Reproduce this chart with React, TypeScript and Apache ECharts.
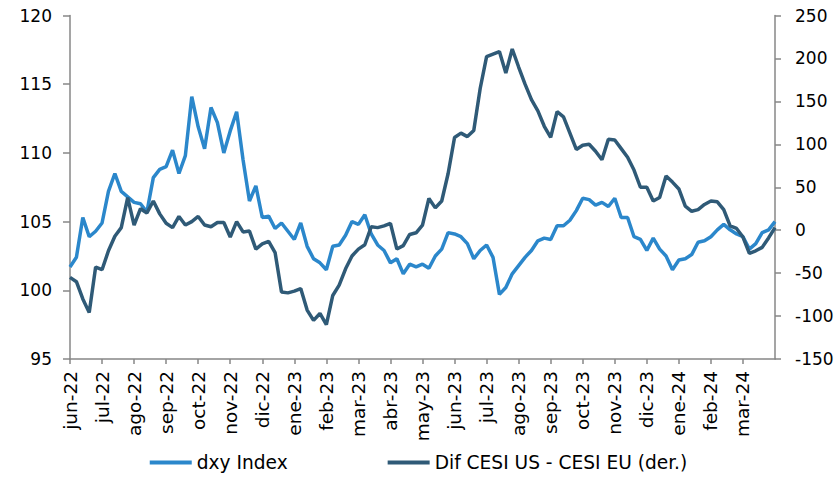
import React, { useEffect, useRef } from "react";
import * as echarts from "echarts";

// Month labels (x-axis), 5 samples per month
const months = [
  "jun-22", "jul-22", "ago-22", "sep-22", "oct-22", "nov-22", "dic-22",
  "ene-23", "feb-23", "mar-23", "abr-23", "may-23", "jun-23", "jul-23",
  "ago-23", "sep-23", "oct-23", "nov-23", "dic-23", "ene-24", "feb-24",
  "mar-24", "abr-24",
];
const samplesPerMonth = 5;

// dxy Index (left axis)
const dxyIndex = [
  101.7, 102.4, 105.3, 103.9, 104.3, // jun-22
  104.9, 107.2, 108.5, 107.2, 106.8, // jul-22
  106.4, 106.3, 105.7, 108.2, 108.8, // ago-22
  109.0, 110.2, 108.5, 109.8, 114.1, // sep-22
  111.9, 110.3, 113.3, 112.2, 110.0, // oct-22
  111.6, 113.0, 109.5, 106.5, 107.6, // nov-22
  105.3, 105.4, 104.5, 104.9, 104.3, // dic-22
  103.7, 104.9, 103.2, 102.3, 102.0, // ene-23
  101.5, 103.2, 103.3, 104.0, 105.0, // feb-23
  104.8, 105.5, 104.1, 103.3, 102.9, // mar-23
  102.0, 102.3, 101.2, 101.9, 101.7, // abr-23
  101.9, 101.6, 102.5, 103.0, 104.2, // may-23
  104.1, 103.9, 103.4, 102.3, 102.9, // jun-23
  103.3, 102.4, 99.7, 100.2, 101.2, // jul-23
  101.8, 102.4, 102.9, 103.6, 103.8, // ago-23
  103.7, 104.7, 104.7, 105.1, 105.8, // sep-23
  106.7, 106.6, 106.2, 106.4, 106.1, // oct-23
  106.7, 105.3, 105.3, 103.9, 103.7, // nov-23
  102.9, 103.8, 103.0, 102.5, 101.5, // dic-23
  102.2, 102.3, 102.6, 103.5, 103.6, // ene-24
  103.9, 104.4, 104.8, 104.4, 104.1, // feb-24
  103.9, 103.0, 103.4, 104.2, 104.4, // mar-24
  105.0,
];

// Dif CESI US - CESI EU (right axis)
const cesiDiff = [
  -55, -60, -80, -96, -43, // jun-22
  -46, -24, -7, 3, 38, // jul-22
  6, 25, 20, 34, 19, // ago-22
  8, 3, 16, 6, 10, // sep-22
  16, 6, 4, 9, 9, // oct-22
  -8, 10, -2, -1, -22, // nov-22
  -16, -13, -26, -72, -73, // dic-22
  -71, -68, -93, -105, -97, // ene-23
  -110, -76, -64, -45, -30, // feb-23
  -22, -17, 4, 3, 5, // mar-23
  8, -22, -18, -5, -3, // abr-23
  6, 37, 26, 34, 66, // may-23
  108, 113, 109, 116, 165, // jun-23
  202, 205, 208, 183, 211, // jul-23
  190, 170, 152, 139, 121, // ago-23
  108, 138, 132, 113, 94, // sep-23
  99, 100, 92, 82, 106, // oct-23
  105, 95, 85, 70, 50, // nov-23
  50, 34, 38, 63, 56, // dic-23
  48, 28, 22, 24, 30, // ene-24
  34, 33, 24, 5, 2, // feb-24
  -8, -27, -24, -20, -9, // mar-24
  3,
];

const seriesNames = ["dxy Index", "Dif CESI US - CESI EU (der.)"];

const FONT = "DejaVu Sans";
const AXIS_GRAY = "#878787";
const BLUE = "#2B87CB";
const DARK = "#2F5A77";

export default function App() {
  const ref = useRef<HTMLDivElement>(null);

  useEffect(() => {
    if (!ref.current) return;
    document.body.style.margin = "0";
    const chart = echarts.init(ref.current, undefined, { renderer: "svg" });

    const categories: string[] = [];
    const total = dxyIndex.length;
    for (let i = 0; i < total; i++) {
      const m = Math.floor(i / samplesPerMonth);
      const j = i % samplesPerMonth;
      categories.push(months[m] + "|" + j);
    }
    const isMonthStart = (i: number) => i % samplesPerMonth === 0 && i < total - 1;

    chart.setOption({
      animation: false,
      grid: { left: 70, right: 62, top: 15.5, bottom: 118, containLabel: false },
      legend: {
        data: seriesNames,
        bottom: 0,
        left: "center",
        icon: "rect",
        itemWidth: 42,
        itemHeight: 4,
        itemGap: 100,
        textStyle: { fontFamily: FONT, fontSize: 18.6, color: "#000" },
      },
      xAxis: {
        type: "category",
        data: categories,
        boundaryGap: false,
        axisLine: { onZero: false, lineStyle: { color: AXIS_GRAY, width: 1.5 } },
        axisTick: {
          interval: (i: number) => isMonthStart(i),
          length: 5,
          lineStyle: { color: AXIS_GRAY, width: 1.5 },
        },
        axisLabel: {
          interval: (i: number) => isMonthStart(i),
          rotate: 90,
          margin: 12,
          fontFamily: FONT,
          fontSize: 18.5,
          color: "#000",
          formatter: (v: string) => v.split("|")[0],
        },
        splitLine: { show: false },
      },
      yAxis: [
        {
          type: "value",
          min: 95,
          max: 120,
          interval: 5,
          position: "left",
          axisLine: { show: true, lineStyle: { color: AXIS_GRAY, width: 1.5 } },
          axisTick: { show: true, length: 7, lineStyle: { color: AXIS_GRAY, width: 1.5 } },
          axisLabel: { margin: 18, fontFamily: FONT, fontSize: 17, color: "#000" },
          splitLine: { show: false },
        },
        {
          type: "value",
          min: -150,
          max: 250,
          interval: 50,
          position: "right",
          axisLine: { show: true, lineStyle: { color: AXIS_GRAY, width: 1.5 } },
          axisTick: { show: true, length: 6, lineStyle: { color: AXIS_GRAY, width: 1.5 } },
          axisLabel: { margin: 20, fontFamily: FONT, fontSize: 17, color: "#000" },
          splitLine: { show: false },
        },
      ],
      series: [
        {
          name: seriesNames[0],
          type: "line",
          yAxisIndex: 0,
          data: dxyIndex,
          symbol: "none",
          color: BLUE,
          lineStyle: { color: BLUE, width: 3.5 },
        },
        {
          name: seriesNames[1],
          type: "line",
          yAxisIndex: 1,
          data: cesiDiff,
          symbol: "none",
          color: DARK,
          lineStyle: { color: DARK, width: 3.5 },
        },
      ],
    });

    return () => chart.dispose();
  }, []);

  return <div ref={ref} style={{ width: 837, height: 477 }} />;
}
